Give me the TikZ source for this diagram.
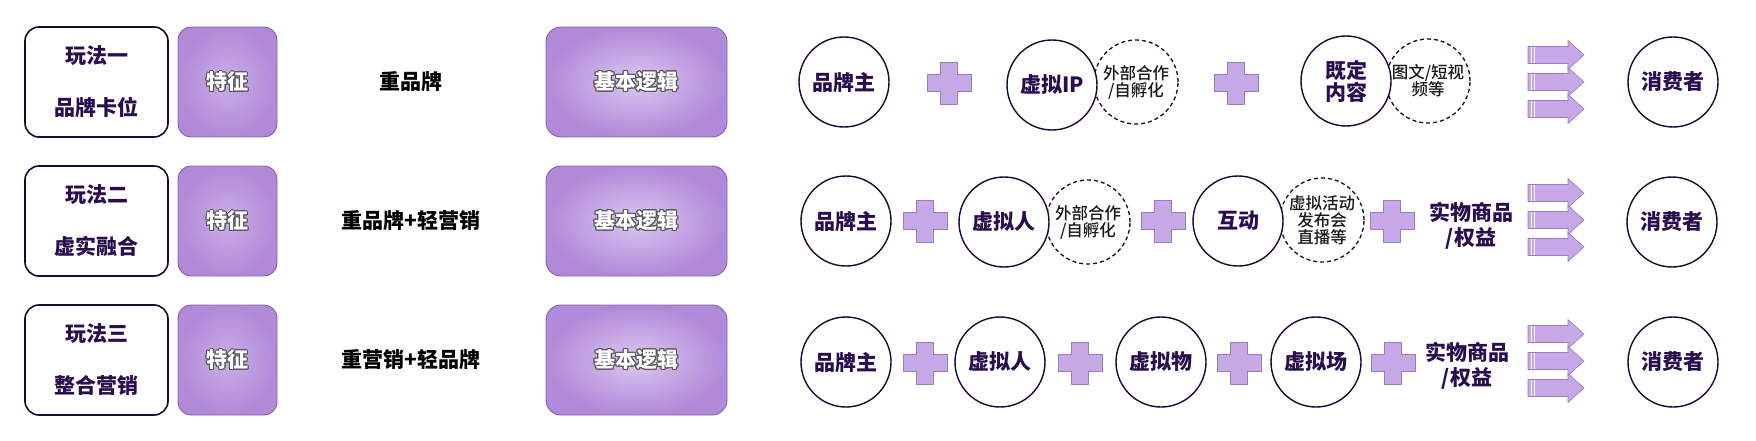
\documentclass[tikz,border=0pt]{standalone}
\usepackage{fontspec}
\usepackage{xcolor}
\usepackage{contour}
\setmainfont{Noto Sans CJK SC}[BoldFont={Noto Sans CJK SC Black}]
\newfontfamily\cjkmedium{Noto Sans CJK SC Medium}
\contourlength{0.8pt}
\definecolor{ink}{HTML}{2A0D4E}
\definecolor{edge}{HTML}{1C0733}
\definecolor{lilac}{HTML}{C6A8E6}
\definecolor{lilacedge}{HTML}{9A7CC2}
\definecolor{boxedge}{HTML}{8660AC}
\definecolor{lilaclight}{HTML}{DCC6F1}
\definecolor{lilacdark}{HTML}{B089D8}

% plus sign centred at #1
\newcommand{\plusat}[1]{%
  \begin{scope}[shift={#1}]
    \draw[plusmark] (-8.5,-21) -- (8.5,-21) -- (8.5,-8.5) -- (22,-8.5) -- (22,8.5)
      -- (8.5,8.5) -- (8.5,21) -- (-8.5,21) -- (-8.5,8.5) -- (-22,8.5)
      -- (-22,-8.5) -- (-8.5,-8.5) -- cycle;
  \end{scope}}
% three block arrows centred at #1
\newcommand{\flowat}[1]{%
  \begin{scope}[shift={#1}]
    \foreach \dy in {-27,0,27} {
      \draw[flowmark] (-27,\dy-8.5) -- (13,\dy-8.5) -- (13,\dy-14.5) -- (29,\dy)
        -- (13,\dy+14.5) -- (13,\dy+8.5) -- (-27,\dy+8.5) -- cycle;
      \draw[white,line width=0.9pt] (-24,\dy-8) -- (-24,\dy+8);
      \draw[white,line width=0.9pt] (-20.5,\dy-8) -- (-20.5,\dy+8);
    }
  \end{scope}}

\begin{document}
\begin{tikzpicture}[x=1pt,y=-1pt,
  playbox/.style={draw=edge,line width=1.6pt,rounded corners=14pt,fill=white,
    minimum width=143pt,minimum height=110pt,inner sep=0pt,align=center,
    text=ink,font=\bfseries\fontsize{21}{52}\selectfont},
  tagbox/.style={draw=boxedge,line width=0.9pt,rounded corners=13pt,
    inner color=lilaclight!60!lilacdark,outer color=lilacdark,
    minimum width=99pt,minimum height=110pt,inner sep=0pt,
    font=\bfseries\fontsize{21}{25}\selectfont},
  logicbox/.style={tagbox,inner color=lilaclight,minimum width=181pt,rounded corners=15pt},
  feature/.style={font=\bfseries\fontsize{21}{25}\selectfont,text=black},
  party/.style={circle,draw=edge,line width=1.4pt,fill=white,minimum size=90pt,
    inner sep=0pt,align=center,text=ink,font=\bfseries\fontsize{21}{22}\selectfont},
  note/.style={circle,draw=edge,dashed,dash pattern=on 4pt off 3pt,line width=1.3pt,
    minimum size=84pt,inner sep=0pt,align=center,text=black!90,
    font=\cjkmedium\fontsize{16.5}{17}\selectfont},
  goods/.style={align=center,text=ink,font=\bfseries\fontsize{21}{25}\selectfont},
  plusmark/.style={fill=lilac,draw=lilacedge,line width=0.6pt},
  flowmark/.style={fill=lilac,draw=lilacedge,line width=0.6pt}]

\useasboundingbox[fill=white] (0,0) rectangle (1756,441);

% left column: the three plays
\node[playbox] (play1) at (96.5,82) {玩法一\\品牌卡位};
\node[playbox] (play2) at (96.5,221) {玩法二\\虚实融合};
\node[playbox] (play3) at (96.5,360) {玩法三\\整合营销};

\node[tagbox] (tag1) at (227.5,82) {\color{white}\contour{black!65}{特征}};
\node[tagbox] (tag2) at (227.5,221) {\color{white}\contour{black!65}{特征}};
\node[tagbox] (tag3) at (227.5,360) {\color{white}\contour{black!65}{特征}};

\node[feature] (feat1) at (411,82) {重品牌};
\node[feature] (feat2) at (411,221) {重品牌+轻营销};
\node[feature] (feat3) at (411,360) {重营销+轻品牌};

\node[logicbox] (logic1) at (636.5,82) {\color{white}\contour{black!65}{基本逻辑}};
\node[logicbox] (logic2) at (636.5,221) {\color{white}\contour{black!65}{基本逻辑}};
\node[logicbox] (logic3) at (636.5,360) {\color{white}\contour{black!65}{基本逻辑}};

% row 1
\node[party] (brand1) at (844,82) {品牌主};
\plusat{(949,83)}
\node[note] (ipnote) at (1136,82) {外部合作\\/自孵化};
\node[party] (ip) at (1052,85) {虚拟IP};
\plusat{(1236,83)}
\node[note] (contnote) at (1428,81) {图文/短视\\频等};
\node[party] (content) at (1346,81) {既定\\内容};
\flowat{(1555,82)}
\node[party] (buyer1) at (1673,82) {消费者};

% row 2
\node[party] (brand2) at (846,221) {品牌主};
\plusat{(925,221)}
\node[note] (humnote) at (1088,222) {外部合作\\/自孵化};
\node[party] (human2) at (1004,222) {虚拟人};
\plusat{(1163,221)}
\node[note] (actnote) at (1322,220) {虚拟活动\\发布会\\直播等};
\node[party] (interact) at (1238,221) {互动};
\plusat{(1392,221)}
\node[goods] (goods2) at (1471,226) {实物商品\\/权益};
\flowat{(1555,220)}
\node[party] (buyer2) at (1672,222) {消费者};

% row 3
\node[party] (brand3) at (846,362) {品牌主};
\plusat{(925,363)}
\node[party] (human3) at (1000,362) {虚拟人};
\plusat{(1080,363)}
\node[party] (vobject) at (1161,362) {虚拟物};
\plusat{(1239,363)}
\node[party] (vscene) at (1316,362) {虚拟场};
\plusat{(1393,363)}
\node[goods] (goods3) at (1467,366) {实物商品\\/权益};
\flowat{(1555,361)}
\node[party] (buyer3) at (1673,362) {消费者};

\end{tikzpicture}
\end{document}
